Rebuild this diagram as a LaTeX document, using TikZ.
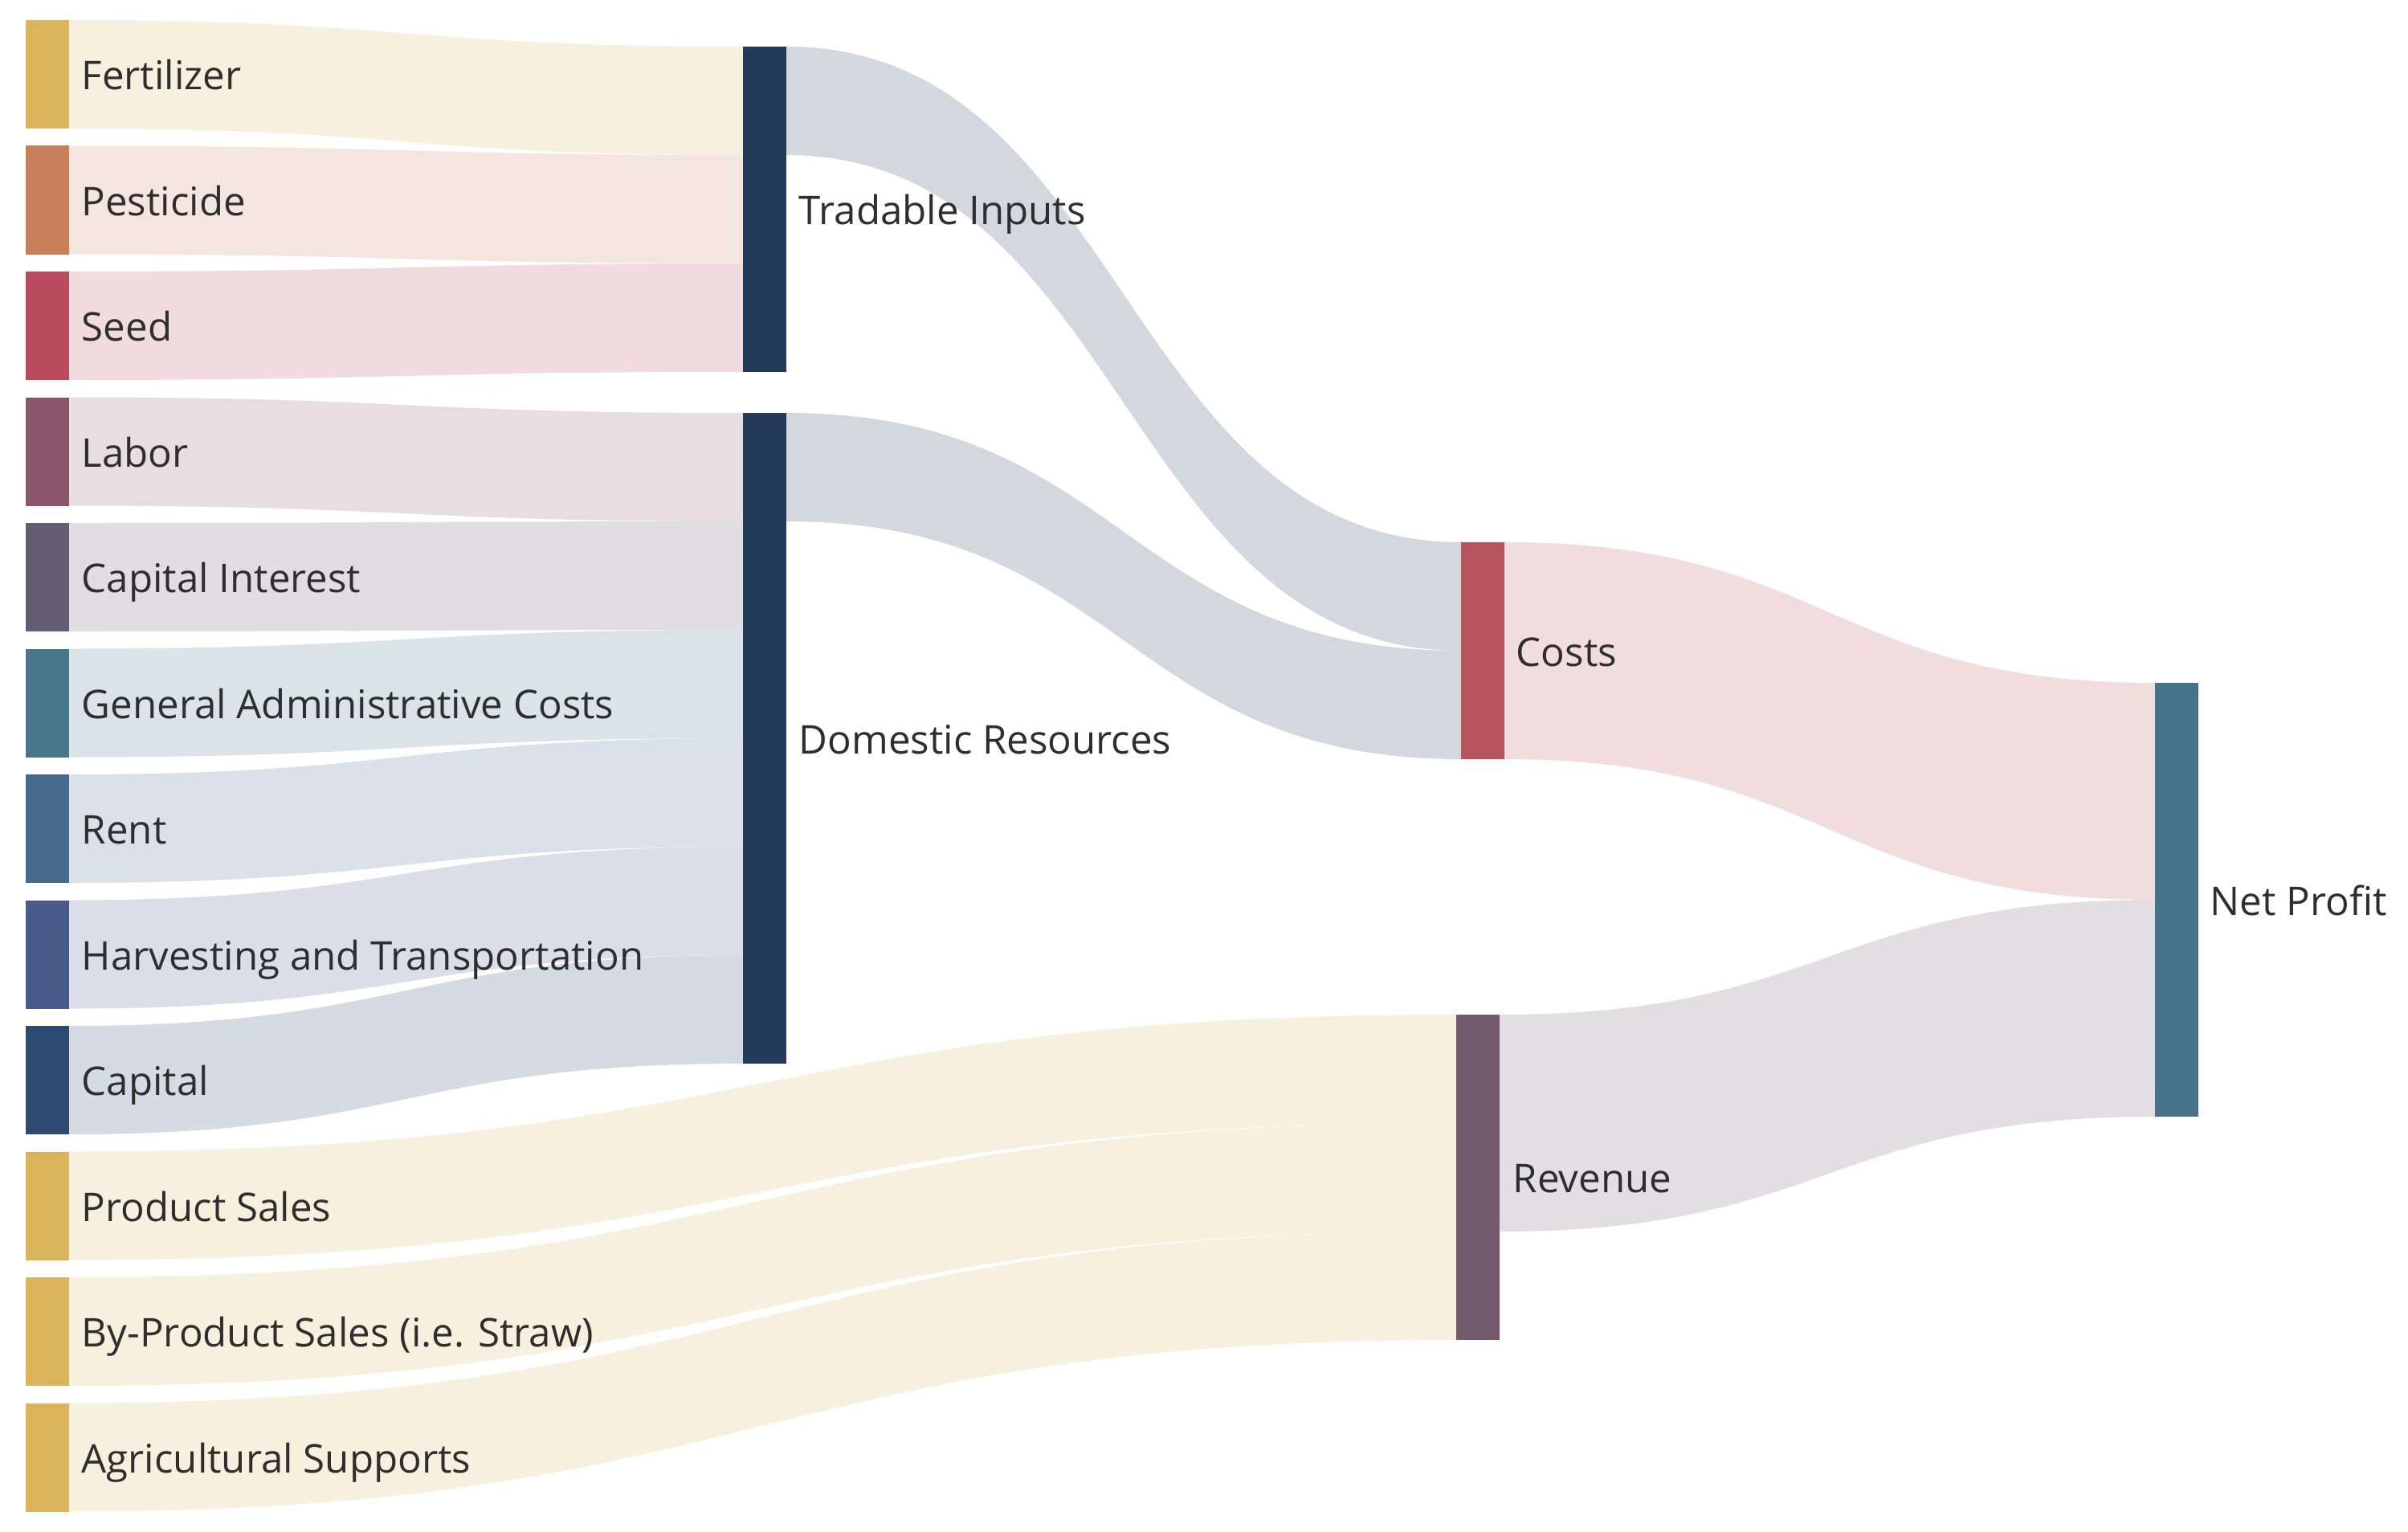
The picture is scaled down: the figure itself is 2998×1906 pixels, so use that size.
\documentclass[tikz,border=0pt]{standalone}
\usepackage{fontspec}
\setmainfont{Open Sans}
\usepackage{xcolor}
\usepackage{tikz}
\usetikzlibrary{calc, backgrounds}
\definecolor{gold}{HTML}{DAB35A}
\definecolor{pesticide}{HTML}{C8805A}
\definecolor{seed}{HTML}{B84C5E}
\definecolor{labor}{HTML}{8C5468}
\definecolor{capint}{HTML}{645C70}
\definecolor{admin}{HTML}{46788A}
\definecolor{rent}{HTML}{466A8B}
\definecolor{harvest}{HTML}{4A5A8A}
\definecolor{capital}{HTML}{2F4A70}
\definecolor{navy}{HTML}{233A5A}
\definecolor{costs}{HTML}{B8555C}
\definecolor{revenue}{HTML}{745A6F}
\definecolor{profit}{HTML}{46718A}
\definecolor{labeltext}{HTML}{2E2E2E}
\newcommand{\sankeyfont}{\fontsize{14}{17}\selectfont}
% band from node #1 (offset #2 from its top) to node #3 (offset #4), width #5
\newcommand{\linkband}[6]{%
  \path (#1.north east) ++(0,#2) coordinate (fa) ++(0,#5) coordinate (fb);
  \path (#3.north west) ++(0,#4) coordinate (ta) ++(0,#5) coordinate (tb);
  \path ($(fa)!.5!(ta)$) coordinate (fm);
  \fill[#6!20] (fa) .. controls (fm |- fa) and (fm |- ta) .. (ta) -- (tb)
    .. controls (fm |- tb) and (fm |- fb) .. (fb) -- cycle;
}

\begin{document}
\begin{tikzpicture}[
    x=0.01cm, y=-0.01cm,
    bar/.style={rectangle, inner sep=0pt, outer sep=0pt, minimum width=0.54cm, anchor=north west},
    lbl/.style={anchor=base west, inner sep=0pt, font=\sankeyfont, text=labeltext}
]
    \useasboundingbox (0,0) rectangle (2998,1906);

    % Input nodes
    \node[bar, fill=gold, minimum height=1.35cm] (fert) at (32,25) {};
    \node[bar, fill=pesticide, minimum height=1.35cm] (pest) at (32,181.5) {};
    \node[bar, fill=seed, minimum height=1.35cm] (seed) at (32,338) {};
    \node[bar, fill=labor, minimum height=1.35cm] (labor) at (32,494.5) {};
    \node[bar, fill=capint, minimum height=1.35cm] (capint) at (32,651) {};
    \node[bar, fill=admin, minimum height=1.35cm] (admin) at (32,807.5) {};
    \node[bar, fill=rent, minimum height=1.35cm] (rent) at (32,964) {};
    \node[bar, fill=harvest, minimum height=1.35cm] (harv) at (32,1120.5) {};
    \node[bar, fill=capital, minimum height=1.35cm] (capital) at (32,1277) {};
    \node[bar, fill=gold, minimum height=1.35cm] (psales) at (32,1433.5) {};
    \node[bar, fill=gold, minimum height=1.35cm] (bysales) at (32,1590) {};
    \node[bar, fill=gold, minimum height=1.35cm] (agri) at (32,1746.5) {};

    % Aggregate nodes
    \node[bar, fill=navy, minimum height=4.05cm] (trad) at (925,58) {};
    \node[bar, fill=navy, minimum height=8.1cm] (dom) at (925,514) {};
    \node[bar, fill=costs, minimum height=2.7cm] (costs) at (1819,675) {};
    \node[bar, fill=revenue, minimum height=4.05cm] (rev) at (1813,1263) {};
    \node[bar, fill=profit, minimum height=5.4cm] (profit) at (2683,850) {};

    % Flows
    \begin{scope}[on background layer]
        \linkband{fert}{0}{trad}{0}{135}{gold}
        \linkband{pest}{0}{trad}{135}{135}{pesticide}
        \linkband{seed}{0}{trad}{270}{135}{seed}
        \linkband{labor}{0}{dom}{0}{135}{labor}
        \linkband{capint}{0}{dom}{135}{135}{capint}
        \linkband{admin}{0}{dom}{270}{135}{admin}
        \linkband{rent}{0}{dom}{405}{135}{rent}
        \linkband{harv}{0}{dom}{540}{135}{harvest}
        \linkband{capital}{0}{dom}{675}{135}{capital}
        \linkband{trad}{0}{costs}{0}{135}{navy}
        \linkband{dom}{0}{costs}{135}{135}{navy}
        \linkband{psales}{0}{rev}{0}{135}{gold}
        \linkband{bysales}{0}{rev}{135}{135}{gold}
        \linkband{agri}{0}{rev}{270}{135}{gold}
        \linkband{costs}{0}{profit}{0}{270}{costs}
        \linkband{rev}{0}{profit}{270}{270}{revenue}
    \end{scope}

    % Labels
    \node[lbl] (fert-l) at ($(fert.east)+(15,19)$) {Fertilizer};
    \node[lbl] (pest-l) at ($(pest.east)+(15,19)$) {Pesticide};
    \node[lbl] (seed-l) at ($(seed.east)+(15,19)$) {Seed};
    \node[lbl] (labor-l) at ($(labor.east)+(15,19)$) {Labor};
    \node[lbl] (capint-l) at ($(capint.east)+(15,19)$) {Capital Interest};
    \node[lbl] (admin-l) at ($(admin.east)+(15,19)$) {General Administrative Costs};
    \node[lbl] (rent-l) at ($(rent.east)+(15,19)$) {Rent};
    \node[lbl] (harv-l) at ($(harv.east)+(15,19)$) {Harvesting and Transportation};
    \node[lbl] (capital-l) at ($(capital.east)+(15,19)$) {Capital};
    \node[lbl] (psales-l) at ($(psales.east)+(15,19)$) {Product Sales};
    \node[lbl] (bysales-l) at ($(bysales.east)+(15,19)$) {By-Product Sales (i.e. Straw)};
    \node[lbl] (agri-l) at ($(agri.east)+(15,19)$) {Agricultural Supports};
    \node[lbl] (trad-l) at ($(trad.east)+(15,19)$) {Tradable Inputs};
    \node[lbl] (dom-l) at ($(dom.east)+(15,19)$) {Domestic Resources};
    \node[lbl] (costs-l) at ($(costs.east)+(14,19)$) {Costs};
    \node[lbl] (rev-l) at ($(rev.east)+(16,19)$) {Revenue};
    \node[lbl] (profit-l) at ($(profit.east)+(14,19)$) {Net Profit};
\end{tikzpicture}
\end{document}
